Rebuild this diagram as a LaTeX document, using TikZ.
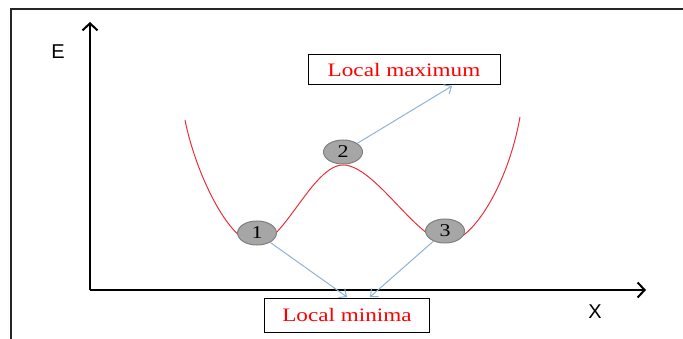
\documentclass[tikz,border=0pt]{standalone}
\usepackage{fontspec}
\setmainfont{Liberation Serif}[FakeStretch=1.22]
\newfontfamily\axisfont{Liberation Sans}
\usetikzlibrary{arrows.meta,shapes.geometric}
\definecolor{linkblue}{HTML}{8DB3D9}
\definecolor{ballgray}{HTML}{A6A6A6}
\definecolor{ballrim}{HTML}{7F7F7F}
\definecolor{wellred}{HTML}{E8303A}
\begin{document}
\begin{tikzpicture}
  [x=1pt, y=-1pt,
   ball/.style={ellipse, fill=ballgray, draw=ballrim, line width=1pt,
     minimum width=39pt, minimum height=24pt, inner sep=0pt,
     font=\fontsize{18}{18}\selectfont},
   tagbox/.style={draw, line width=1pt, text=red, inner sep=0pt,
     font=\fontsize{19}{19}\selectfont},
   link/.style={draw=linkblue, line width=1pt, -{Straight Barb[length=6pt,width=11pt]}},
   axis/.style={line width=2pt, -{Straight Barb[length=7pt,width=15pt]}}]
  \useasboundingbox (0,0) rectangle (683,339);
  \draw[line width=2.5pt, black!85] (11,339) -- (11,9) -- (683,9);
  \coordinate (origin) at (90,290);
  \coordinate (ytop) at (90,22);
  \coordinate (xend) at (646,290);
  \draw[axis] (origin) -- (ytop);
  \draw[axis] (origin) -- (xend);
  \node (elabel) at (58,52) {\axisfont\fontsize{20}{20}\selectfont E};
  \node (xlabel) at (595,312) {\axisfont\fontsize{20}{20}\selectfont X};
  \draw[wellred, line width=1pt] (185,120)
    .. controls (196,175) and (230,244) .. (257,244)
    .. controls (283,244) and (313,165) .. (343,165)
    .. controls (375,165) and (418,242) .. (447,242)
    .. controls (472,242) and (508,185) .. (520,117);
  \node[ball] (one) at (257,233) {1};
  \node[ball] (two) at (343,152) {2};
  \node[ball] (three) at (445,231) {3};
  \node[tagbox, minimum width=192pt, minimum height=30pt] (maxbox) at (404,70) {Local maximum};
  \node[tagbox, minimum width=165pt, minimum height=34pt] (minbox) at (347,315) {Local minima};
  \coordinate (maxtip) at (452,86);
  \coordinate (mintipA) at (347,297);
  \coordinate (mintipB) at (370,297);
  \draw[link] (two) -- (maxtip);
  \draw[link] (one) -- (mintipA);
  \draw[link] (three) -- (mintipB);
\end{tikzpicture}
\end{document}
